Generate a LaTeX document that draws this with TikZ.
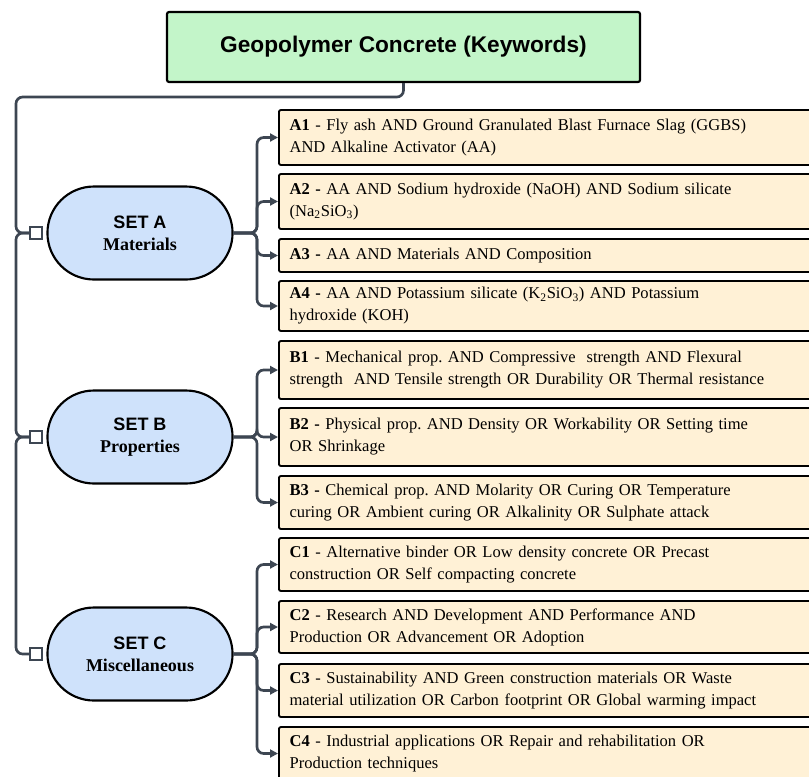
\documentclass[tikz,border=0pt]{standalone}
\usepackage{fontspec}
\setmainfont{Liberation Serif}
\setsansfont{Liberation Sans}
\usetikzlibrary{shapes.misc,arrows.meta}
\definecolor{titlegreen}{HTML}{C3F5C9}
\definecolor{setblue}{HTML}{CFE2FB}
\definecolor{keybeige}{HTML}{FFF1D6}
\definecolor{linegray}{HTML}{3D4652}
\frenchspacing

\begin{document}
\begin{tikzpicture}[x=0.75pt,y=-0.75pt,
	title/.style={draw,line width=1.6pt,fill=titlegreen,rounded corners=1.5pt,minimum width=354.75pt,minimum height=52.5pt,font=\sffamily\bfseries\fontsize{17}{20}\selectfont},
	setbox/.style={draw,line width=1.6pt,fill=setblue,rounded rectangle,minimum width=145.5pt,minimum height=69.75pt,align=center,font=\fontsize{13.5}{16.5}\selectfont},
	keybox/.style={draw,line width=1.4pt,fill=keybeige,rounded corners=1.5pt,anchor=west,text width=404pt,inner xsep=8pt,align=left,font=\fontsize{12.4}{16.5}\selectfont},
	port/.style={draw=linegray,line width=1.5pt,fill=white,minimum size=9pt,inner sep=0pt},
	conn/.style={draw=linegray,line width=2pt,rounded corners=5pt},
	arr/.style={conn,-{Triangle[length=6pt,width=6pt]}}]
		\useasboundingbox (0,0) rectangle (809,776);
		\clip (0,0) rectangle (809,776);
		
		\node[title] (title) at (403.5,47) {Geopolymer Concrete (Keywords)};
		
		\node[setbox] (setA) at (140,233) {{\sffamily\bfseries SET A}\\\textbf{Materials}};
		\node[setbox] (setB) at (140,437) {{\sffamily\bfseries SET B}\\\textbf{Properties}};
		\node[setbox] (setC) at (140,654) {{\sffamily\bfseries SET C}\\\textbf{Miscellaneous}};
		
		\node[port] (portA) at (36,233) {};
		\node[port] (portB) at (36,437) {};
		\node[port] (portC) at (36,654) {};
		
		% set A
		\node[keybox,minimum height=41.25pt] (a1) at (278,137.5) {\textbf{A1} - Fly ash AND Ground Granulated Blast Furnace Slag (GGBS)\\AND Alkaline Activator (AA)};
		\node[keybox,minimum height=41.25pt] (a2) at (278,201.5) {\textbf{A2 -} AA AND Sodium hydroxide (NaOH) AND Sodium silicate\\(Na\textsubscript{2}SiO\textsubscript{3})};
		\node[keybox,minimum height=24.75pt] (a3) at (278,255.5) {\textbf{A3 -} AA AND Materials AND Composition};
		\node[keybox,minimum height=37.5pt] (a4) at (278,306) {\textbf{A4 -} AA AND Potassium silicate (K\textsubscript{2}SiO\textsubscript{3}) AND Potassium\\hydroxide (KOH)};
		
		% set B
		\node[keybox,minimum height=43.5pt] (b1) at (278,370) {\textbf{B1} - Mechanical prop. AND Compressive~ strength AND Flexural\\strength~ AND Tensile strength OR Durability OR Thermal resistance};
		\node[keybox,minimum height=43.5pt] (b2) at (278,437) {\textbf{B2 -} Physical prop. AND Density OR Workability OR Setting time\\OR Shrinkage};
		\node[keybox,minimum height=39.75pt] (b3) at (278,502.5) {\textbf{B3 -} Chemical prop. AND Molarity OR Curing OR Temperature\\curing OR Ambient curing OR Alkalinity OR Sulphate attack};
		
		% set C
		\node[keybox,minimum height=39.75pt] (c1) at (278,564.5) {\textbf{C1} - Alternative binder OR Low density concrete OR Precast\\construction OR Self compacting concrete};
		\node[keybox,minimum height=39pt] (c2) at (278,627) {\textbf{C2} - Research AND Development AND Performance AND\\Production OR Advancement OR Adoption};
		\node[keybox,minimum height=39.75pt] (c3) at (278,690.5) {\textbf{C3} - Sustainability AND Green construction materials OR Waste\\material utilization OR Carbon footprint OR Global warming impact};
		\node[keybox,minimum height=39.75pt] (c4) at (278,753.5) {\textbf{C4} - Industrial applications OR Repair and rehabilitation OR\\Production techniques};
		
		% trunk
		\coordinate (bend) at (16,97);
		\draw[conn] (title.south) |- (bend) -- (bend |- portA) -- (portA.west);
		\draw[conn] (portA.west) -- (bend |- portA) -- (bend |- portB) -- (portB.west);
		\draw[conn] (portB.west) -- (bend |- portB) -- (bend |- portC) -- (portC.west);
		
		% branches
		\coordinate (forkA) at (257,233);
		\coordinate (forkB) at (257,437);
		\coordinate (forkC) at (257,654);
		\foreach \k in {a1,a2,a3,a4}
			\draw[arr] (setA.east) -- (forkA) |- (\k.west);
		\foreach \k in {b1,b2,b3}
			\draw[arr] (setB.east) -- (forkB) |- (\k.west);
		\foreach \k in {c1,c2,c3,c4}
			\draw[arr] (setC.east) -- (forkC) |- (\k.west);
		
	\end{tikzpicture}
\end{document}
